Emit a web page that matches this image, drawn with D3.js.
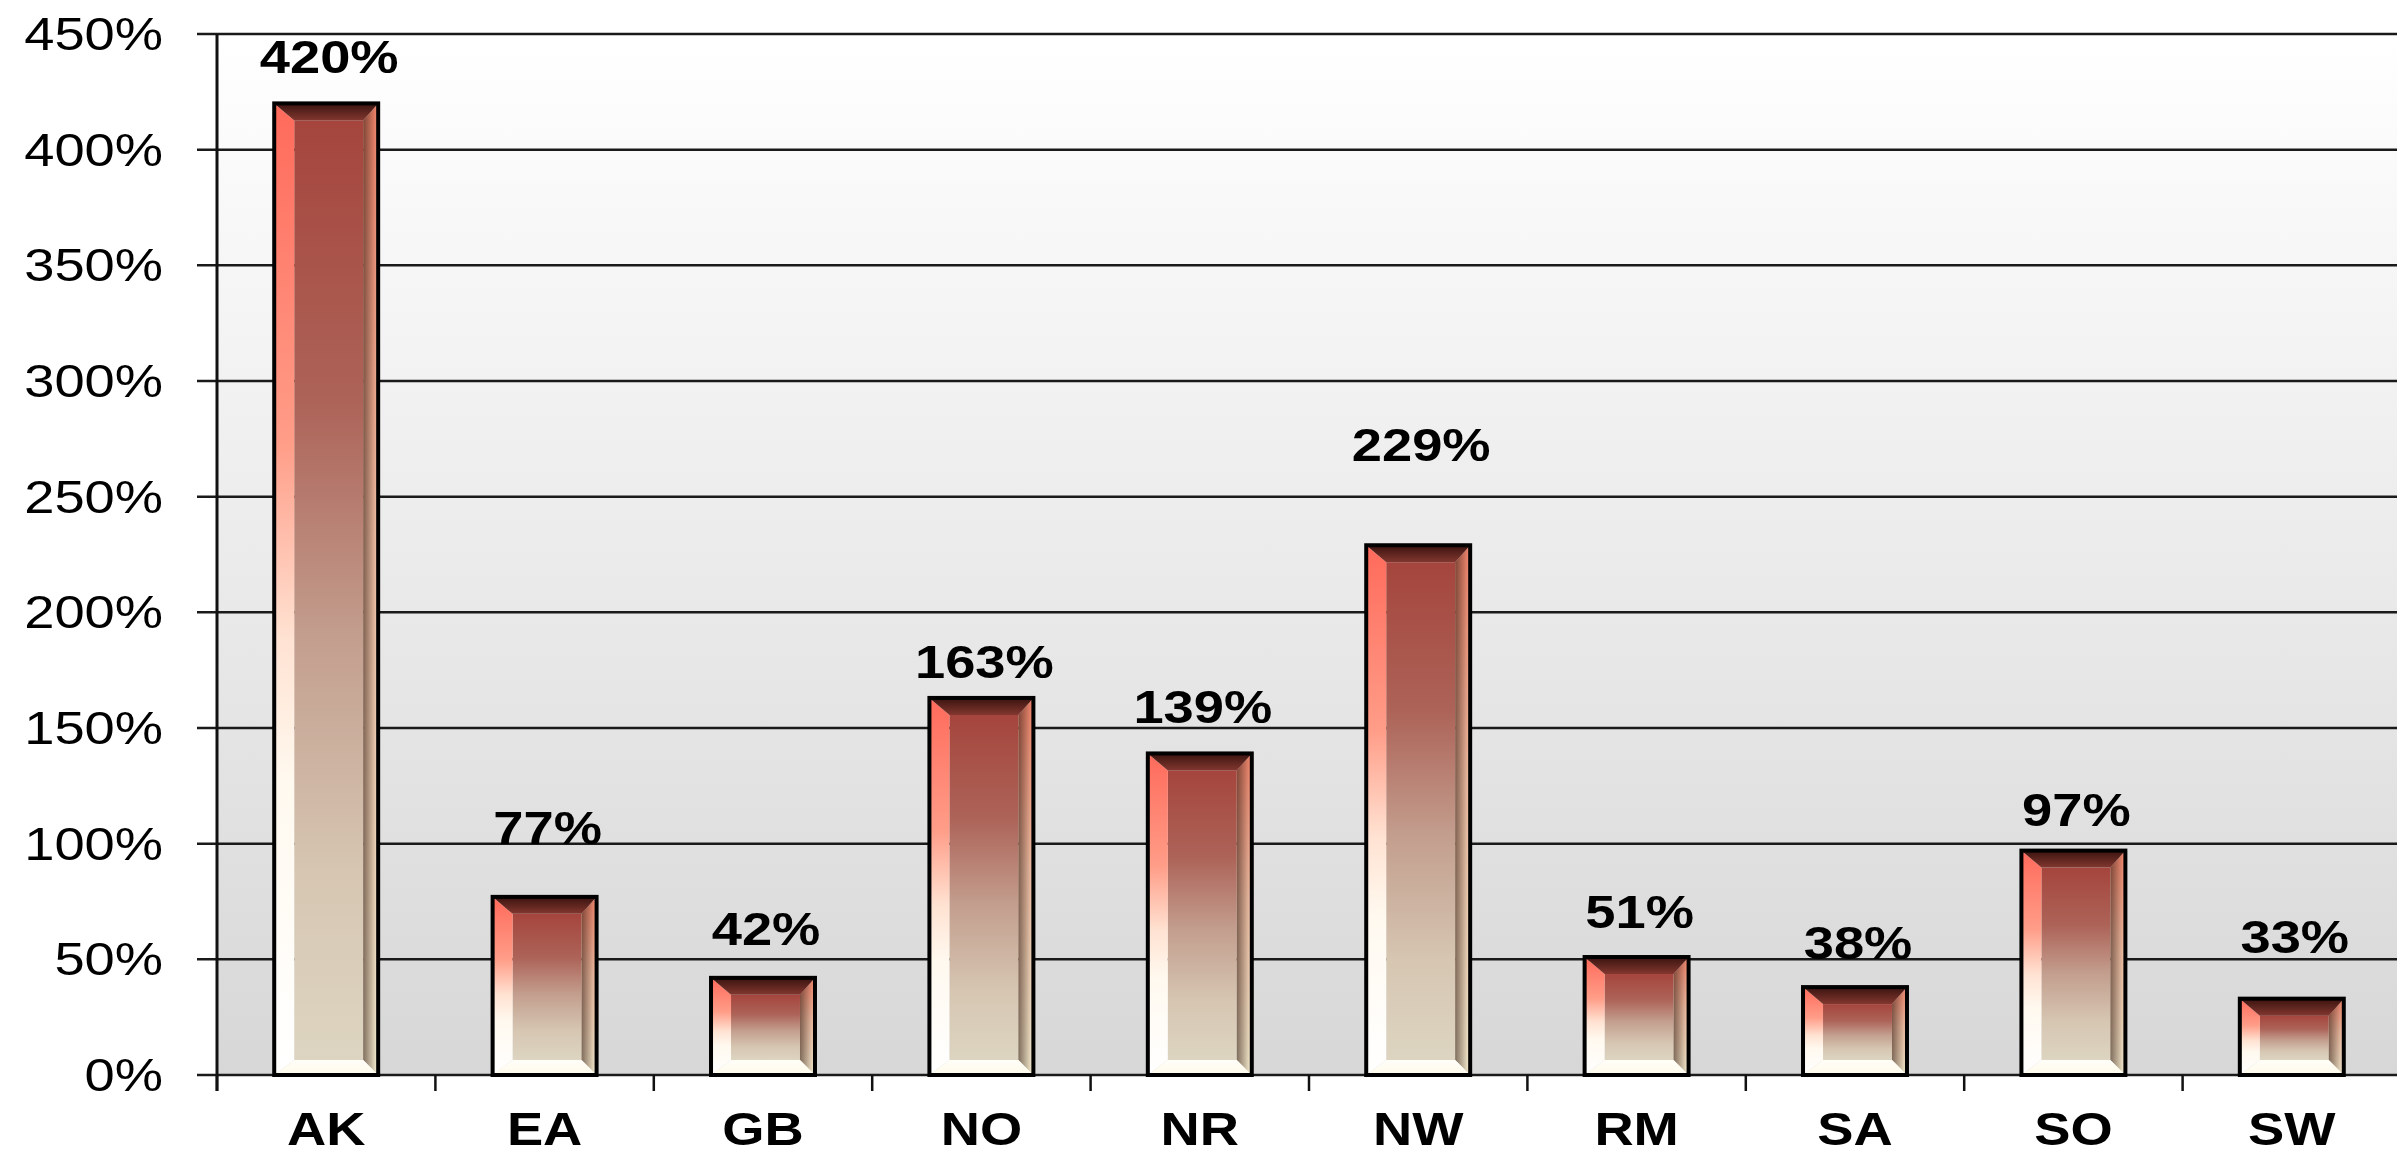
<!DOCTYPE html>
<html>
<head>
<meta charset="utf-8">
<script src="https://cdn.jsdelivr.net/npm/d3@7"></script>
<style>
  html, body { margin: 0; padding: 0; background: #ffffff; }
  svg { display: block; }
  text { font-family: "Liberation Sans", Arial, sans-serif; fill: #000; }
</style>
</head>
<body>
<svg id="chart" width="2397" height="1153"></svg>
<script>
// ---------- data ----------
const categories = ["AK", "EA", "GB", "NO", "NR", "NW", "RM", "SA", "SO", "SW"];
const values = [420, 77, 42, 163, 139, 229, 51, 38, 97, 33];
const yTickValues = [0, 50, 100, 150, 200, 250, 300, 350, 400, 450];
const yTickLabels = ["0%", "50%", "100%", "150%", "200%", "250%", "300%", "350%", "400%", "450%"];

(function () {
// ---------- layout ----------
const W = 2397;
const plotLeft = 217, plotTop = 34, plotBottom = 1075;
const step = 218.4;
const labelLift = [30, 53, 33, 20, 30, 84, 29, 28, 25, 46]; // label placement above bars (px)
const textStretch = 1.18;

const svg = d3.select("#chart");
const defs = svg.append("defs");

const x = d3.scaleBand()
  .domain(categories)
  .range([plotLeft, plotLeft + step * categories.length])
  .paddingInner(0.524)
  .paddingOuter(0.262);

const y = d3.scaleLinear().domain([0, 450]).range([plotBottom, plotTop]);

function linGrad(id, stops, horiz) {
  const g = defs.append("linearGradient").attr("id", id)
    .attr("x1", 0).attr("y1", 0)
    .attr("x2", horiz ? 1 : 0).attr("y2", horiz ? 0 : 1);
  stops.forEach(s => g.append("stop").attr("offset", s[0]).attr("stop-color", s[1])
    .attr("stop-opacity", s[2] === undefined ? 1 : s[2]));
}
linGrad("bg", [[0, "#ffffff"], [1, "#d7d7d7"]]);
linGrad("face", [[0, "#a5453d"], [0.3, "#ad6358"], [0.55, "#c39e8e"], [0.8, "#d6c6b2"], [1, "#ddd5c1"]]);
linGrad("lbev", [[0, "#ff6a5b"], [0.35, "#ff9d88"], [0.55, "#ffe2d2"], [0.7, "#fff9ef"], [1, "#ffffff"]]);
linGrad("rbev", [[0, "#ff8c72"], [0.45, "#ffccb0"], [1, "#fff8da"]]);
linGrad("rshade", [[0, "#2a140c", 0.6], [1, "#2a140c", 0]], true);
linGrad("tbev", [[0, "#3a130f"], [1, "#82372f"]]);
linGrad("bbev", [[0, "#fffef8"], [1, "#fffbea"]]);

// background of plot
svg.append("rect")
  .attr("x", plotLeft).attr("y", plotTop)
  .attr("width", W - plotLeft).attr("height", plotBottom - plotTop)
  .attr("fill", "url(#bg)");

// gridlines
svg.append("g").selectAll("line").data(yTickValues).join("line")
  .attr("x1", plotLeft - 20).attr("x2", W)
  .attr("y1", d => y(d)).attr("y2", d => y(d))
  .attr("stroke", "#1a1a1a").attr("stroke-width", 2.5);

// y axis line
svg.append("line")
  .attr("x1", plotLeft).attr("x2", plotLeft)
  .attr("y1", plotTop).attr("y2", plotBottom + 16)
  .attr("stroke", "#111").attr("stroke-width", 3);

// x ticks at category boundaries
const bounds = d3.range(categories.length + 1).map(i => x.range()[0] + i * x.step());
svg.append("g").selectAll("line").data(bounds).join("line")
  .attr("x1", d => d).attr("x2", d => d)
  .attr("y1", plotBottom).attr("y2", plotBottom + 16)
  .attr("stroke", "#111").attr("stroke-width", 2.5);

// y tick labels
svg.append("g").selectAll("text").data(yTickValues).join("text")
  .attr("transform", d => `translate(163,${y(d) + 16}) scale(${textStretch},1)`)
  .attr("text-anchor", "end")
  .attr("font-size", 46)
  .text((d, i) => yTickLabels[i]);

// category labels
svg.append("g").selectAll("text").data(categories).join("text")
  .attr("transform", d => `translate(${x(d) + x.bandwidth() / 2},1145) scale(${textStretch},1)`)
  .attr("text-anchor", "middle")
  .attr("font-size", 46)
  .attr("font-weight", "bold")
  .text(d => d);

// bars with bevel
const L = 20, R = 15, T = 17, B = 15;
const bars = svg.append("g").selectAll("g").data(values).join("g");
bars.each(function (v, i) {
  const g = d3.select(this);
  const x0 = x(categories[i]), x1 = x0 + x.bandwidth();
  const y0 = y(v), y1 = y(0);
  const pts = a => a.map(p => p.join(",")).join(" ");
  g.append("rect").attr("x", x0 + L).attr("y", y0 + T)
    .attr("width", x1 - x0 - L - R).attr("height", Math.max(0, y1 - y0 - T - B))
    .attr("fill", "url(#face)");
  g.append("polygon").attr("points", pts([[x0, y0], [x0 + L, y0 + T], [x0 + L, y1 - B], [x0, y1]]))
    .attr("fill", "url(#lbev)");
  g.append("polygon").attr("points", pts([[x1, y0], [x1, y1], [x1 - R, y1 - B], [x1 - R, y0 + T]]))
    .attr("fill", "url(#rbev)");
  g.append("polygon").attr("points", pts([[x1, y0], [x1, y1], [x1 - R, y1 - B], [x1 - R, y0 + T]]))
    .attr("fill", "url(#rshade)");
  g.append("polygon").attr("points", pts([[x0, y1], [x0 + L, y1 - B], [x1 - R, y1 - B], [x1, y1]]))
    .attr("fill", "url(#bbev)");
  g.append("polygon").attr("points", pts([[x0, y0], [x1, y0], [x1 - R, y0 + T], [x0 + L, y0 + T]]))
    .attr("fill", "url(#tbev)");
  g.append("rect").attr("x", x0).attr("y", y0)
    .attr("width", x1 - x0).attr("height", y1 - y0)
    .attr("fill", "none").attr("stroke", "#000").attr("stroke-width", 4);
});

// data labels
svg.append("g").selectAll("text").data(values).join("text")
  .attr("transform", (d, i) => `translate(${x(categories[i]) + x.bandwidth() / 2 + 3},${y(d) - labelLift[i]}) scale(${textStretch},1)`)
  .attr("text-anchor", "middle")
  .attr("font-size", 46)
  .attr("font-weight", "bold")
  .text(d => d + "%");
})();
</script>
</body>
</html>
